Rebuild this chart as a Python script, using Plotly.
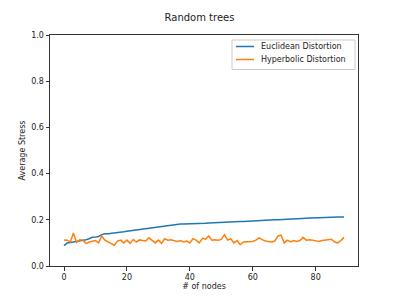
import plotly.graph_objects as go

nodes = list(range(90))
euclidean = [0.088, 0.100, 0.102, 0.104, 0.105, 0.108, 0.112, 0.114, 0.118, 0.124,
             0.125, 0.128, 0.136, 0.140, 0.140, 0.141, 0.142, 0.144, 0.146, 0.148,
             0.150, 0.152, 0.153, 0.154, 0.155, 0.157, 0.159, 0.162, 0.164, 0.166,
             0.168, 0.170, 0.172, 0.174, 0.176, 0.179, 0.181, 0.182, 0.182, 0.182,
             0.182, 0.182, 0.183, 0.183, 0.184, 0.185, 0.186, 0.187, 0.188, 0.189,
             0.190, 0.191, 0.192, 0.192, 0.192, 0.193, 0.193, 0.193, 0.194, 0.194,
             0.195, 0.196, 0.196, 0.197, 0.198, 0.198, 0.199, 0.200, 0.200, 0.201,
             0.202, 0.203, 0.203, 0.204, 0.205, 0.205, 0.206, 0.207, 0.207, 0.208,
             0.209, 0.209, 0.210, 0.211, 0.212, 0.213, 0.213, 0.212, 0.212, 0.212]
hyperbolic = [0.113, 0.112, 0.104, 0.143, 0.102, 0.114, 0.112, 0.097, 0.104, 0.108,
              0.110, 0.100, 0.130, 0.112, 0.105, 0.095, 0.090, 0.108, 0.112, 0.100,
              0.112, 0.098, 0.115, 0.104, 0.113, 0.110, 0.108, 0.122, 0.110, 0.100,
              0.112, 0.098, 0.118, 0.112, 0.114, 0.110, 0.106, 0.110, 0.104, 0.108,
              0.100, 0.118, 0.112, 0.100, 0.120, 0.116, 0.130, 0.112, 0.114, 0.112,
              0.115, 0.136, 0.112, 0.118, 0.100, 0.110, 0.092, 0.104, 0.104, 0.106,
              0.106, 0.112, 0.122, 0.114, 0.108, 0.106, 0.104, 0.108, 0.130, 0.134,
              0.100, 0.112, 0.104, 0.110, 0.106, 0.110, 0.124, 0.112, 0.114, 0.112,
              0.110, 0.106, 0.110, 0.112, 0.114, 0.116, 0.104, 0.100, 0.110, 0.124]
series_names = ["Euclidean Distortion", "Hyperbolic Distortion"]
series_colors = ["#1f77b4", "#ff7f0e"]
x_ticks = [0, 20, 40, 60, 80]
y_ticks = [0.0, 0.2, 0.4, 0.6, 0.8, 1.0]

fig = go.Figure()
for ys, name, col in zip([euclidean, hyperbolic], series_names, series_colors):
    fig.add_trace(go.Scatter(x=nodes, y=ys, mode="lines", name=name,
                             line=dict(color=col, width=1.5), showlegend=False))

# matplotlib-style legend box (drawn in paper coordinates)
L, T, W, H = 50, 35, 308, 231
px = lambda p: (p - L) / W
py = lambda p: (T + H - p) / H
shapes = [dict(type="rect", xref="paper", yref="paper",
               x0=px(232), x1=px(355), y0=py(69.5), y1=py(40),
               line=dict(color="#cccccc", width=1), fillcolor="rgba(255,255,255,0.8)",
               layer="above")]
annotations = []
for i, (name, col) in enumerate(zip(series_names, series_colors)):
    yy = py(46.5 + 13 * i)
    shapes.append(dict(type="line", xref="paper", yref="paper",
                       x0=px(236), x1=px(254), y0=yy, y1=yy,
                       line=dict(color=col, width=1.5), layer="above"))
    annotations.append(dict(text=name, xref="paper", yref="paper", x=px(259), y=yy,
                            xanchor="left", yanchor="middle", showarrow=False,
                            font=dict(size=8, color="#222")))

axis_common = dict(showgrid=False, zeroline=False, showline=True, linecolor="#333",
                   linewidth=1, mirror=True, ticks="outside", ticklen=3.5,
                   tickcolor="#333", tickfont=dict(size=8, color="#222"), automargin=False)
fig.update_layout(
    width=399, height=299,
    margin=dict(l=50, r=41, t=35, b=33),
    paper_bgcolor="white", plot_bgcolor="white",
    font=dict(family="DejaVu Sans", color="#222"),
    title=dict(text="Random trees", x=0.5, xanchor="center", y=0.94, yanchor="middle",
               font=dict(size=10), automargin=False),
    xaxis=dict(range=[-4.45, 93.45], tickvals=x_ticks,
               title=dict(text="# of nodes", font=dict(size=8), standoff=2), **axis_common),
    yaxis=dict(range=[0, 1], tickvals=y_ticks, tickformat=".1f",
               title=dict(text="Average Stress", font=dict(size=8), standoff=4), **axis_common),
    shapes=shapes, annotations=annotations,
    showlegend=False,
)
fig.write_html("out.html", config={"displayModeBar": False},
               post_script="document.body.style.margin='0';document.body.style.overflow='hidden';")
